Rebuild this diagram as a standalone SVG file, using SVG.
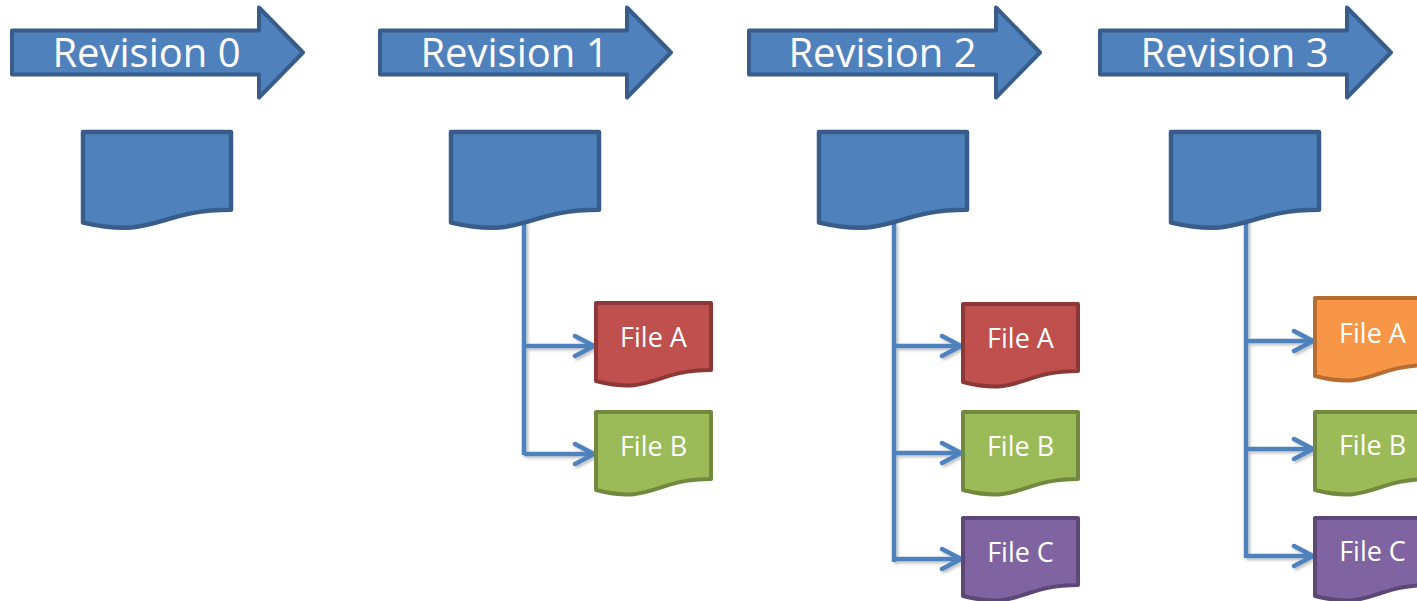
<svg xmlns="http://www.w3.org/2000/svg" xmlns:xlink="http://www.w3.org/1999/xlink" width="1417" height="601" viewBox="0 0 1417 601">
<style>
  .rev { fill:#4F81BD; stroke:#385D8A; stroke-width:4; stroke-linejoin:round; }
  .revtxt { font-family:"Open Sans","Liberation Sans",sans-serif; font-size:40px; fill:#FFFFFF; text-anchor:middle; }
  .doc { fill:#4F81BD; stroke:#385D8A; stroke-width:4.5; stroke-linejoin:round; }
  .file { stroke-width:4; stroke-linejoin:round; }
  .red { fill:#C0504D; stroke:#8C3836; }
  .green { fill:#9BBB59; stroke:#71893F; }
  .purple { fill:#8064A2; stroke:#5C4776; }
  .orange { fill:#F79646; stroke:#B66D31; }
  .ftxt { font-family:"Open Sans","Liberation Sans",sans-serif; font-size:27px; fill:#FFFFFF; text-anchor:middle; }
  .conn { fill:none; stroke:#4F81BD; stroke-width:4.5; }
</style>
<defs>
  <path id="docShape" d="M0,0 H148 V77.8 C74,77.8 74,107.5 0,90.6 Z"/>
  <path id="fileShape" d="M0,0 H115 V67 C57.5,67 57.5,92.5 0,78 Z"/>
  <path id="revArrow" d="M0,0 H247 V-23 L291,22 L247,67 V44 H0 Z"/>
  <marker id="chev" markerUnits="userSpaceOnUse" viewBox="0 0 26 26" markerWidth="26" markerHeight="26" refX="22" refY="13" orient="auto">
    <path d="M3,3 L22,13 L3,23" fill="none" stroke="#4F81BD" stroke-width="4.5" stroke-linecap="round" stroke-linejoin="round"/>
  </marker>
  <filter id="sh" x="-20%" y="-20%" width="140%" height="140%">
    <feDropShadow dx="2" dy="2" stdDeviation="1.5" flood-color="#000" flood-opacity="0.25"/>
  </filter>
</defs>

<g id="rev0">
  <use xlink:href="#revArrow" class="rev" transform="translate(12,30.5)"/>
  <text class="revtxt" x="146.5" y="67">Revision 0</text>
</g>
<g id="rev1">
  <use xlink:href="#revArrow" class="rev" transform="translate(380,30.5)"/>
  <text class="revtxt" x="514.5" y="67">Revision 1</text>
</g>
<g id="rev2">
  <use xlink:href="#revArrow" class="rev" transform="translate(749,30.5)"/>
  <text class="revtxt" x="882.5" y="67">Revision 2</text>
</g>
<g id="rev3">
  <use xlink:href="#revArrow" class="rev" transform="translate(1100,30.5)"/>
  <text class="revtxt" x="1234.5" y="67">Revision 3</text>
</g>

<g id="connectors" filter="url(#sh)">
  <path class="conn" d="M524,222 V455"/>
  <path class="conn" d="M524,346 H594" marker-end="url(#chev)"/>
  <path class="conn" d="M524,454 H594" marker-end="url(#chev)"/>
  <path class="conn" d="M894,223 V562"/>
  <path class="conn" d="M894,346 H961" marker-end="url(#chev)"/>
  <path class="conn" d="M894,453 H961" marker-end="url(#chev)"/>
  <path class="conn" d="M894,559 H961" marker-end="url(#chev)"/>
  <path class="conn" d="M1246,220 V558"/>
  <path class="conn" d="M1246,341 H1313" marker-end="url(#chev)"/>
  <path class="conn" d="M1246,449 H1313" marker-end="url(#chev)"/>
  <path class="conn" d="M1246,556 H1313" marker-end="url(#chev)"/>
</g>

<g id="doc0"><use xlink:href="#docShape" class="doc" transform="translate(83,132)"/></g>
<g id="doc1"><use xlink:href="#docShape" class="doc" transform="translate(451,132)"/></g>
<g id="doc2"><use xlink:href="#docShape" class="doc" transform="translate(819,132)"/></g>
<g id="doc3"><use xlink:href="#docShape" class="doc" transform="translate(1171,132)"/></g>

<g id="r1fileA">
  <use xlink:href="#fileShape" class="file red" transform="translate(596,303)"/>
  <text class="ftxt" x="653.5" y="347">File A</text>
</g>
<g id="r1fileB">
  <use xlink:href="#fileShape" class="file green" transform="translate(596,412)"/>
  <text class="ftxt" x="653.5" y="456">File B</text>
</g>

<g id="r2fileA">
  <use xlink:href="#fileShape" class="file red" transform="translate(963,304)"/>
  <text class="ftxt" x="1020.5" y="348">File A</text>
</g>
<g id="r2fileB">
  <use xlink:href="#fileShape" class="file green" transform="translate(963,412)"/>
  <text class="ftxt" x="1020.5" y="456">File B</text>
</g>
<g id="r2fileC">
  <use xlink:href="#fileShape" class="file purple" transform="translate(963,518)"/>
  <text class="ftxt" x="1020.5" y="562">File C</text>
</g>

<g id="r3fileA">
  <use xlink:href="#fileShape" class="file orange" transform="translate(1315,298)"/>
  <text class="ftxt" x="1372.5" y="343">File A</text>
</g>
<g id="r3fileB">
  <use xlink:href="#fileShape" class="file green" transform="translate(1315,412)"/>
  <text class="ftxt" x="1372.5" y="455">File B</text>
</g>
<g id="r3fileC">
  <use xlink:href="#fileShape" class="file purple" transform="translate(1315,518)"/>
  <text class="ftxt" x="1372.5" y="561">File C</text>
</g>
</svg>
